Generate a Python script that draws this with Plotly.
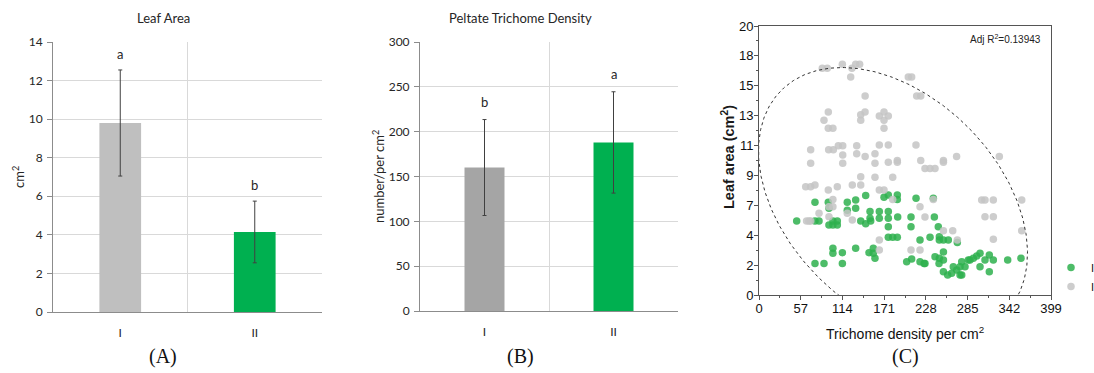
import numpy as np
import plotly.graph_objects as go

# ---------------- data ----------------
categories = ["I", "II"]

leaf_area_mean = [9.8, 4.15]
leaf_area_sd = [2.75, 1.6]
leaf_area_letters = ["a", "b"]

density_mean = [160, 188]
density_sd = [53.5, 56.5]
density_letters = ["b", "a"]

# scatter: group I (grey) and group II (green)
group_I_x = [86.5, 93.3, 113.9, 125.3, 127.0, 132.1, 137.5, 204.0, 208.6,
             145.0, 215.5, 221.0,
             88.8, 94.7, 94.7, 101.0, 139.0, 139.0, 144.9, 164.4, 170.8, 176.7, 170.8, 170.8,
             70.6, 70.6, 95.2, 101.6, 108.4, 114.4, 114.4, 114.4, 133.5, 133.5, 145.0, 158.5,
             158.5, 164.4, 176.7, 176.7, 189.0, 189.0, 214.5, 221.0, 252.0, 252.0, 270.0, 328.4,
             226.8, 233.7, 240.5, 139.0, 158.5, 182.7,
             63.8, 70.6, 76.5, 94.7, 107.0, 127.5, 139.0, 164.4, 170.8, 182.7, 220.0, 238.2,
             65.0, 70.6, 68.3, 82.0, 95.6, 101.0, 101.0, 95.6, 120.6, 127.5, 164.4, 164.4,
             207.7, 220.0, 226.8, 252.0, 264.7, 271.0,
             304.3, 308.8, 320.2, 308.8, 320.2, 320.2, 359.0, 359.0]
group_I_y = [16.85, 16.85, 17.15, 16.2, 16.85, 17.15, 17.15, 16.2, 16.2,
             14.8, 14.8, 14.8,
             13.0, 13.6, 12.4, 12.4, 13.0, 13.4, 13.6, 13.3, 13.6, 13.3, 13.0, 12.4,
             10.8, 9.8, 10.8, 10.8, 11.1, 11.1, 10.4, 9.8, 11.1, 10.5, 10.3, 10.5,
             9.8, 11.15, 11.15, 9.87, 10.0, 9.87, 11.15, 10.0, 10.0, 9.87, 10.3, 10.3,
             9.4, 9.4, 9.4, 8.8, 8.75, 8.75,
             8.05, 8.05, 8.18, 7.8, 8.05, 8.18, 8.18, 7.8, 7.8, 7.1, 6.57, 7.1,
             5.5, 5.5, 5.5, 6.07, 6.57, 6.57, 7.1, 5.82, 6.07, 5.58, 4.09, 3.35,
             3.35, 3.35, 5.8, 4.78, 4.78, 4.09,
             7.06, 7.06, 7.06, 5.82, 5.82, 4.14, 7.06, 4.78]

group_II_x = [51.5, 76.5, 76.5, 82.0, 94.7, 95.6, 95.6, 101.0, 107.0, 101.0, 107.0, 120.6,
              132.1, 120.6, 132.1, 139.0, 145.8, 152.6, 145.8,
              170.8, 176.7, 189.0, 189.0, 151.7, 164.4, 176.7, 151.7, 164.4, 176.7, 189.5,
              207.7, 207.7, 176.7, 176.7, 182.7, 189.0, 220.0, 233.7, 245.0, 246.4, 246.4,
              252.0, 258.7, 238.2, 214.6, 239.6, 271.0,
              101.0, 101.0, 113.9, 132.1, 150.3, 156.2, 156.2, 158.5, 76.5, 88.8, 113.9,
              201.8, 208.6, 220.0, 225.5, 226.8, 240.5, 246.4, 252.0, 252.0, 246.0,
              252.0, 257.8, 263.3, 270.2, 274.7, 265.5, 274.7, 281.5, 286.0,
              277.0, 288.3, 292.9, 297.5, 302.0, 308.8, 314.7, 320.2, 302.0, 314.7, 339.8,
              358.0, 277.0]
group_II_y = [5.5, 6.9, 5.5, 5.5, 6.9, 6.45, 5.2, 5.2, 5.2, 5.5, 5.5, 6.9,
              7.06, 6.3, 6.45, 5.5, 5.3, 5.5, 7.4,
              7.26, 7.43, 7.43, 7.1, 6.2, 6.2, 6.2, 5.7, 5.7, 5.7, 5.8,
              5.8, 5.08, 5.08, 4.29, 4.29, 4.29, 4.09, 4.29, 5.08, 4.34, 4.09,
              4.09, 4.09, 7.19, 7.2, 5.8, 3.9,
              3.47, 3.1, 3.15, 3.47, 3.15, 3.47, 3.1, 2.73, 2.35, 2.35, 2.35,
              2.48, 2.68, 2.48, 2.35, 2.35, 2.85, 2.73, 3.2, 2.6, 2.35,
              1.73, 1.49, 1.61, 1.86, 1.49, 2.1, 2.1, 2.1, 2.6,
              2.48, 2.6, 2.73, 2.9, 3.1, 2.6, 2.97, 2.6, 2.1, 1.73, 2.6,
              2.73, 1.49]

scatter_x_ticks = [0, 57, 114, 171, 228, 285, 342, 399]
scatter_y_ticklabels = ["0", "2", "4", "7", "9", "11", "13", "15", "18", "20"]
adj_r2_text = "Adj R<sup>2</sup>=0.13943"

# confidence ellipse parameters (data-space centre, semi-axes in screen px, angle)
ellipse_center = (183.1, 6.91)
ellipse_semi_axes_px = (158.0, 106.0)
ellipse_angle_deg = 45.0

# ---------------- layout helpers ----------------
W, H = 1094, 373
def fx(p):
    return p / W
def fy(p):
    return 1 - p / H

dom_A_x = [fx(53), fx(322)]
dom_A_y = [fy(312), fy(42)]
dom_B_x = [fx(420), fx(678)]
dom_B_y = [fy(311), fy(42)]
dom_C_x = [fx(759), fx(1051)]
dom_C_y = [fy(295), fy(26)]

xmax_C, ymax_C = 399, 20

xs = list(range(len(categories)))

fig = go.Figure()

bar_font = "Lato, Open Sans, sans-serif"
sc_font = "Liberation Sans, Arial, sans-serif"
serif = "Liberation Serif, serif"
grid_c = "#d9d9d9"
axis_c = "#8c8c8c"

# Panel A
fig.add_trace(go.Bar(
    x=xs, y=leaf_area_mean, width=0.31,
    marker=dict(color=["#bfbfbf", "#00b050"], line=dict(width=0)),
    error_y=dict(type="data", array=leaf_area_sd, color="#404040", thickness=1, width=2),
    xaxis="x", yaxis="y", showlegend=False))
# Panel B
fig.add_trace(go.Bar(
    x=xs, y=density_mean, width=0.31,
    marker=dict(color=["#a5a5a5", "#00b050"], line=dict(width=0)),
    error_y=dict(type="data", array=density_sd, color="#404040", thickness=1, width=2),
    xaxis="x2", yaxis="y2", showlegend=False))

# Panel C scatter
fig.add_trace(go.Scatter(
    x=group_II_x, y=group_II_y, mode="markers", name="II",
    marker=dict(size=7.5, color="rgba(46,176,78,0.85)", line=dict(width=0)),
    xaxis="x3", yaxis="y3"))
fig.add_trace(go.Scatter(
    x=group_I_x, y=group_I_y, mode="markers", name="I",
    marker=dict(size=7.5, color="rgba(196,196,196,0.85)", line=dict(width=0)),
    xaxis="x3", yaxis="y3"))

# ellipse
px_per_x = (dom_C_x[1] - dom_C_x[0]) * W / xmax_C
px_per_y = (dom_C_y[1] - dom_C_y[0]) * H / ymax_C
t = np.linspace(0, 2 * np.pi, 500)
a, b = ellipse_semi_axes_px
th = np.deg2rad(ellipse_angle_deg)
dxp = a * np.cos(th) * np.cos(t) - b * np.sin(th) * np.sin(t)
dyp = a * np.sin(th) * np.cos(t) + b * np.cos(th) * np.sin(t)
ex = ellipse_center[0] + dxp / px_per_x
ey = ellipse_center[1] - dyp / px_per_y
fig.add_trace(go.Scatter(x=ex, y=ey, mode="lines", line=dict(color="#333333", width=1, dash="dot"),
                         xaxis="x3", yaxis="y3", showlegend=False, hoverinfo="skip"))

def ann(x, y, text, font, **kw):
    d = dict(x=x, y=y, xref="paper", yref="paper", text=text, showarrow=False,
             xanchor="center", yanchor="middle", font=font)
    d.update(kw)
    return d

annotations = []
for i, (m, s, l) in enumerate(zip(leaf_area_mean, leaf_area_sd, leaf_area_letters)):
    annotations.append(dict(x=xs[i], y=m + s, xref="x", yref="y", text=l, showarrow=False,
                            xanchor="center", yanchor="middle", yshift=16,
                            font=dict(family=bar_font, size=13, color="#262626")))
for i, (m, s, l) in enumerate(zip(density_mean, density_sd, density_letters)):
    annotations.append(dict(x=xs[i], y=m + s, xref="x2", yref="y2", text=l, showarrow=False,
                            xanchor="center", yanchor="middle", yshift=18,
                            font=dict(family=bar_font, size=13, color="#262626")))

title_font = dict(family=bar_font, size=13, color="#262626")
annotations += [
    ann(fx(163), fy(18), "Leaf Area", title_font),
    ann(fx(520), fy(18), "Peltate Trichome Density", title_font),
    ann(fx(18), fy(177), "cm<sup>2</sup>", title_font, textangle=-90),
    ann(fx(378), fy(177), "number/per cm<sup>2</sup>", title_font, textangle=-90),
    ann(fx(728), fy(157), "<b>Leaf area (cm<sup>2</sup>)</b>",
        dict(family=sc_font, size=14.5, color="#1a1a1a"), textangle=-90),
    ann(fx(905), fy(333), "Trichome density per cm<sup>2</sup>",
        dict(family=sc_font, size=14, color="#111111")),
    ann(fx(163), fy(356), "(A)", dict(family=serif, size=20, color="#111111")),
    ann(fx(520), fy(356), "(B)", dict(family=serif, size=20, color="#111111")),
    ann(fx(905), fy(356), "(C)", dict(family=serif, size=20, color="#111111")),
    ann(fx(1043), fy(39), adj_r2_text, dict(family=sc_font, size=10, color="#222222"),
        xanchor="right"),
]

cat_axis = dict(range=[-0.5, 1.5], tickmode="array", tickvals=xs, ticktext=categories,
                showgrid=False, zeroline=False, showline=True, linecolor=axis_c, linewidth=1,
                ticks="", ticklabelstandoff=10, automargin=False,
                tickfont=dict(family=bar_font, size=12, color="#262626"),
                minor=dict(tickmode="array", tickvals=[0.5, 1.5], showgrid=True,
                           gridcolor=grid_c, gridwidth=1, ticks=""))

val_axis = dict(showgrid=True, gridcolor=grid_c, gridwidth=1, zeroline=False, automargin=False,
                showline=True, linecolor=axis_c, linewidth=1, ticks="outside", ticklen=5,
                tickcolor=axis_c, ticklabelstandoff=2,
                tickfont=dict(family=bar_font, size=12, color="#262626"))

y3_tickvals = [ymax_C * k / (len(scatter_y_ticklabels) - 1) for k in range(len(scatter_y_ticklabels))]
y3_minor = [(y3_tickvals[k] + y3_tickvals[k + 1]) / 2 for k in range(len(y3_tickvals) - 1)]
x3_minor = [(scatter_x_ticks[k] + scatter_x_ticks[k + 1]) / 2 for k in range(len(scatter_x_ticks) - 1)]

fig.update_layout(
    width=W, height=H, margin=dict(l=0, r=0, t=0, b=0, autoexpand=False),
    paper_bgcolor="white", plot_bgcolor="white",
    xaxis=dict(domain=dom_A_x, anchor="y", **cat_axis),
    yaxis=dict(domain=dom_A_y, anchor="x", range=[0, 14], dtick=2, **val_axis),
    xaxis2=dict(domain=dom_B_x, anchor="y2", **cat_axis),
    yaxis2=dict(domain=dom_B_y, anchor="x2", range=[0, 300], dtick=50, **val_axis),
    xaxis3=dict(domain=dom_C_x, anchor="y3", range=[0, xmax_C], tickmode="array",
                tickvals=scatter_x_ticks, showgrid=False, zeroline=False, showline=True,
                mirror=True, linecolor="#555555", linewidth=1, ticks="outside", ticklen=4,
                tickcolor="#555555", automargin=False, ticklabelstandoff=-3,
                tickfont=dict(family=sc_font, size=13, color="#111111"),
                minor=dict(tickmode="array", tickvals=x3_minor, ticks="outside", ticklen=2,
                           tickcolor="#555555", showgrid=False)),
    yaxis3=dict(domain=dom_C_y, anchor="x3", range=[0, ymax_C], tickmode="array",
                tickvals=y3_tickvals, ticktext=scatter_y_ticklabels, showgrid=False,
                zeroline=False, showline=True, mirror=True, linecolor="#555555", linewidth=1,
                ticks="outside", ticklen=4, tickcolor="#555555", automargin=False,
                ticklabelstandoff=-2,
                tickfont=dict(family=sc_font, size=13, color="#111111"),
                minor=dict(tickmode="array", tickvals=y3_minor, ticks="outside", ticklen=2,
                           tickcolor="#555555", showgrid=False)),
    legend=dict(x=fx(1051), y=fy(253), xanchor="left", yanchor="top",
                bgcolor="rgba(0,0,0,0)", font=dict(family=sc_font, size=11, color="#111111"),
                tracegroupgap=0, itemsizing="trace"),
    annotations=annotations,
)

fig.write_html("out.html", config={"displayModeBar": False},
               post_script="document.body.style.margin='0px';")
